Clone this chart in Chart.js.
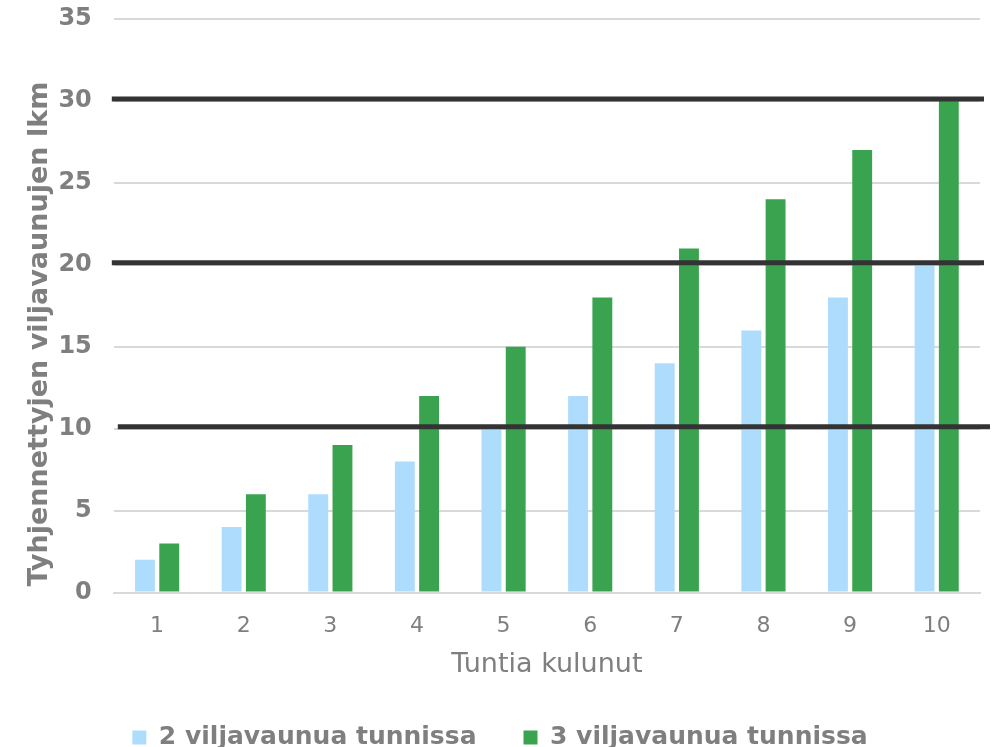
<!DOCTYPE html>
<html>
<head>
<meta charset="utf-8">
<script src="https://cdn.jsdelivr.net/npm/chart.js@4"></script>
<style>
  html, body { margin: 0; padding: 0; background: #fff; }
  #wrap { width: 998px; height: 747px; }
</style>
</head>
<body>
<div id="wrap"><canvas id="myChart"></canvas></div>
<script>
"use strict";

const hours = ["1", "2", "3", "4", "5", "6", "7", "8", "9", "10"];
const twoPerHour = [2, 4, 6, 8, 10, 12, 14, 16, 18, 20];
const threePerHour = [3, 6, 9, 12, 15, 18, 21, 24, 27, 30];
const markLines = [30, 20, 10];

const gray = "#7f7f7f";
const font = "'DejaVu Sans', Verdana, sans-serif";

// thick black lines drawn over the chart at given y values
const markLinePlugin = {
  id: "markLines",
  afterDraw(chart) {
    const ctx = chart.ctx;
    const y = chart.scales.y;
    const area = chart.chartArea;
    ctx.save();
    ctx.strokeStyle = "#333333";
    ctx.lineWidth = 5;
    markLines.forEach((v, i) => {
      const py = y.getPixelForValue(v) - 2;
      const shift = i === 2 ? 4 : -2;
      ctx.beginPath();
      ctx.moveTo(area.left + shift, py);
      ctx.lineTo(area.right + 4 + shift + 2, py);
      ctx.stroke();
    });
    ctx.restore();
  },
};

new Chart("myChart", {
  type: "bar",
  data: {
    labels: hours,
    datasets: [
      {
        label: "2 viljavaunua tunnissa",
        data: twoPerHour,
        backgroundColor: "#addcfd",
        barPercentage: 0.82,
        categoryPercentage: 0.56,
      },
      {
        label: "3 viljavaunua tunnissa",
        data: threePerHour,
        backgroundColor: "#3aa350",
        barPercentage: 0.82,
        categoryPercentage: 0.56,
      },
    ],
  },
  options: {
    responsive: true,
    maintainAspectRatio: false,
    animation: false,
    layout: { padding: { top: 19, right: 18, left: 20, bottom: 0 } },
    plugins: {
      legend: {
        position: "bottom",
        maxHeight: 69,
        labels: {
          color: gray,
          font: { family: font, size: 25, weight: "bold" },
          boxWidth: 14,
          boxHeight: 14,
          padding: 47,
        },
      },
      tooltip: { enabled: false },
    },
    scales: {
      x: {
        grid: { display: false },
        border: { color: "#d9d9d9", width: 2 },
        ticks: {
          color: gray,
          font: { family: font, size: 22 },
          padding: 12,
        },
        title: {
          display: true,
          text: "Tuntia kulunut",
          color: gray,
          font: { family: font, size: 27, lineHeight: 1 },
          padding: { top: 0, bottom: 0 },
        },
      },
      y: {
        min: 0,
        max: 35,
        afterFit(scale) {
          scale.paddingTop = 0;
          scale.width -= 22;
        },
        ticks: {
          stepSize: 5,
          color: gray,
          font: { family: font, size: 24, weight: "bold" },
          padding: 22,
        },
        grid: { color: "#d9d9d9", lineWidth: 2, drawTicks: false },
        border: { display: false },
        title: {
          display: true,
          text: "Tyhjennettyjen viljavaunujen lkm      ",
          color: gray,
          font: { family: font, size: 27, weight: "bold" },
          padding: { bottom: 2 },
        },
      },
    },
  },
  plugins: [markLinePlugin],
});
</script>
</body>
</html>
